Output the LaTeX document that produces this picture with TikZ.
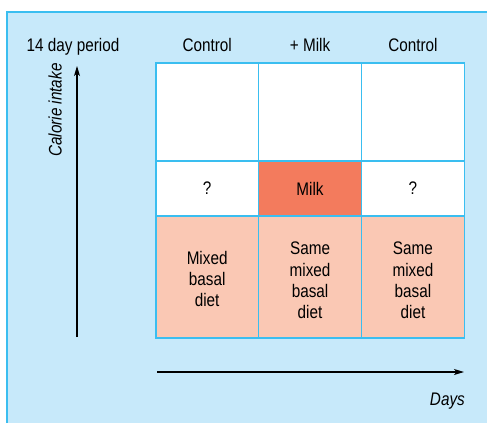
\documentclass[tikz,border=0pt]{standalone}
\usepackage{fontspec}
\setmainfont{Liberation Sans}[FakeStretch=0.84]
\usetikzlibrary{arrows.meta,positioning}
\definecolor{panelblue}{RGB}{199,233,250}
\definecolor{rulecyan}{RGB}{58,190,240}
\definecolor{milkred}{RGB}{243,123,93}
\definecolor{dietpeach}{RGB}{250,200,180}
\newcommand{\lblfont}{\fontsize{18.2}{21.4}\selectfont}
\tikzset{
  cell/.style={draw=rulecyan, line width=1.6pt, outer sep=0pt, inner sep=0pt,
               minimum width=102.9pt, align=center, font=\lblfont},
  blank/.style={fill=white},
  milk/.style={fill=milkred},
  diet/.style={fill=dietpeach},
  celltxt/.style={align=center, font=\lblfont, inner sep=0pt},
  hdr/.style={font=\lblfont, anchor=base},
  axlab/.style={font=\lblfont\itshape, inner sep=0pt},
  axarr/.style={-{Stealth[length=10pt,width=6pt,inset=2.5pt]}, line width=1.1pt},
}
\begin{document}
\begin{tikzpicture}[x=1pt, y=-1pt]
        \useasboundingbox (0,0) rectangle (487,423);
        % panel
        \fill[panelblue] (7,12) rectangle (487,423);
        \draw[rulecyan, line width=2pt] (7,423) -- (7,12) -- (487,12);
        % header row
        \node[hdr] (period) at (73,51.5) {14 day period};
        \node[hdr] (ctrlA) at (207.2,51) {Control};
        \node[hdr] (plusmilk) at (310.1,51) {+ Milk};
        \node[hdr] (ctrlC) at (413,51) {Control};
        % upper row
        \node[cell, blank, minimum height=98.3pt, anchor=north west] (topA) at (155.7,62.7) {};
        \node[cell, blank, minimum height=98.3pt, right=0pt of topA] (topB) {};
        \node[cell, blank, minimum height=98.3pt, right=0pt of topB] (topC) {};
        % supplement row
        \node[cell, blank, minimum height=55pt, below=0pt of topA] (supA) {?};
        \node[cell, milk, minimum height=55pt, below=0pt of topB] (supB) {Milk};
        \node[cell, blank, minimum height=55pt, below=0pt of topC] (supC) {?};
        % basal diet row
        \node[cell, diet, minimum height=122pt, below=0pt of supA] (baseA) {};
        \node[cell, diet, minimum height=122pt, below=0pt of supB] (baseB) {};
        \node[cell, diet, minimum height=122pt, below=0pt of supC] (baseC) {};
        \node[celltxt] (dietA) at ([yshift=-2pt]baseA.center) {Mixed\\basal\\diet};
        \node[celltxt] (dietB) at ([yshift=-3.5pt]baseB.center) {Same\\mixed\\basal\\diet};
        \node[celltxt] (dietC) at ([yshift=-3.5pt]baseC.center) {Same\\mixed\\basal\\diet};
        % axes
        \coordinate (ylow) at (77,337);
        \coordinate (yhigh) at (77,66);
        \coordinate (xlow) at (157,372);
        \coordinate (xhigh) at (464,372);
        \draw[axarr] (ylow) -- (yhigh);
        \draw[axarr] (xlow) -- (xhigh);
        \node[axlab, rotate=90, anchor=base west] (calorie) at (61.5,157) {Calorie intake};
        \node[axlab, anchor=base east] (days) at (465,405) {Days};
      \end{tikzpicture}
\end{document}
